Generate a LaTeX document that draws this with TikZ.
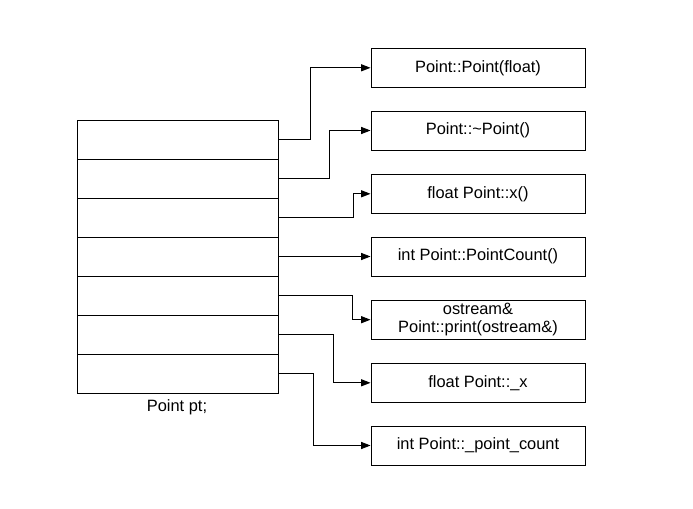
\documentclass[tikz,border=0pt]{standalone}
\usepackage{fontspec}
\setmainfont{Liberation Sans}
\usetikzlibrary{arrows.meta}

\begin{document}
\begin{tikzpicture}[x=0.03cm,y=-0.03cm,line width=0.8pt,
    link/.style={-{Triangle[length=8pt,width=6pt]}}]
    \tikzstyle{cell}=[draw,minimum width=6.03cm,minimum height=1.17cm,inner sep=0pt]
    \tikzstyle{member}=[draw,minimum width=6.42cm,minimum height=1.17cm,inner sep=0pt,
        align=center,font=\fontsize{14}{15}\selectfont]
    \useasboundingbox (0,0) rectangle (693,509);

    % the object pt, one cell per entry
    \node[cell] (C-1) at (177.5,139.5) {};
    \node[cell] (C-2) at (177.5,178.5) {};
    \node[cell] (C-3) at (177.5,217.5) {};
    \node[cell] (C-4) at (177.5,256.5) {};
    \node[cell] (C-5) at (177.5,295.5) {};
    \node[cell] (C-6) at (177.5,334.5) {};
    \node[cell] (C-7) at (177.5,373.5) {};
    \node[font=\fontsize{14}{15}\selectfont] (pt) at (177,407) {Point pt;};

    % members of Point
    \node[member] (M-1) at (478,67.8) {Point::Point(float)};
    \node[member] (M-2) at (478,130.5) {Point::\textasciitilde Point()};
    \node[member] (M-3) at (478,193.8) {float Point::x()};
    \node[member] (M-4) at (478,256.5) {int Point::PointCount()};
    \node[member] (M-5) at (478,319.7) {ostream\&\\Point::print(ostream\&)};
    \node[member] (M-6) at (478,382.8) {float Point::\_x};
    \node[member] (M-7) at (478,445.5) {int Point::\_point\_count};

    \draw[link] (C-1.east) -- ++(32,0) |- (M-1.west);
    \draw[link] (C-2.east) -- ++(51,0) |- (M-2.west);
    \draw[link] (C-3.east) -- ++(75,0) |- (M-3.west);
    \draw[link] (C-4.east) -- (M-4.west);
    \draw[link] (C-5.east) -- ++(74,0) |- (M-5.west);
    \draw[link] (C-6.east) -- ++(55,0) |- (M-6.west);
    \draw[link] (C-7.east) -- ++(35,0) |- (M-7.west);
\end{tikzpicture}
\end{document}
